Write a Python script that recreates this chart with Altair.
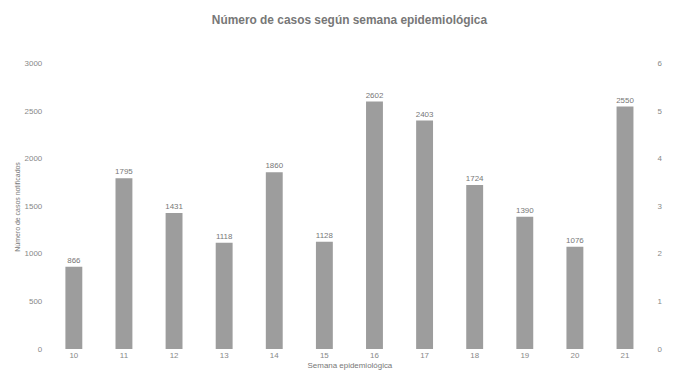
import altair as alt
import pandas as pd

semanas = ["10", "11", "12", "13", "14", "15", "16", "17", "18", "19", "20", "21"]
casos = [866, 1795, 1431, 1118, 1860, 1128, 2602, 2403, 1724, 1390, 1076, 2550]
right_ticks = [0, 1, 2, 3, 4, 5, 6]

df = pd.DataFrame({"semana": semanas, "casos": casos})

x = alt.X("semana:N", sort=semanas, title="Semana epidemiológica",
          axis=alt.Axis(labelAngle=0, labelFontSize=8, labelColor="#888", titleFontSize=8,
                        titleColor="#777", domain=False, ticks=False, labelPadding=3,
                        titlePadding=2, titleFontWeight="normal"),
          scale=alt.Scale(paddingInner=0.66, paddingOuter=0.43))

bars = alt.Chart(df).mark_bar(color="#9d9d9d", size=17).encode(
    x=x,
    y=alt.Y("casos:Q", title="Número de casos notificados",
            scale=alt.Scale(domain=[0, 3000]),
            axis=alt.Axis(values=[0, 500, 1000, 1500, 2000, 2500, 3000], grid=False, format="d",
                          domain=False, ticks=False, labelFontSize=8, labelColor="#888",
                          titleFontSize=7, titleColor="#777", titleFontWeight="normal")),
)

labels = alt.Chart(df).mark_text(dy=-6, fontSize=8, color="#777").encode(
    x=alt.X("semana:N", sort=semanas),
    y="casos:Q",
    text="casos:Q",
)

right = alt.Chart(pd.DataFrame({"t": right_ticks})).mark_point(opacity=0).encode(
    y=alt.Y("t:Q", title=None, scale=alt.Scale(domain=[0, 6]),
            axis=alt.Axis(orient="right", values=right_ticks, grid=False, domain=False,
                          ticks=False, labelFontSize=8, labelColor="#888")),
)

chart = alt.layer(bars + labels, right).resolve_scale(y="independent").properties(
    width=615, height=287,
    title=alt.TitleParams("Número de casos según semana epidemiológica", fontSize=12,
                          color="#777", fontWeight="bold", offset=33),
).configure_view(stroke=None)

chart.save("out.html", embed_options={"renderer": "svg", "actions": False})
